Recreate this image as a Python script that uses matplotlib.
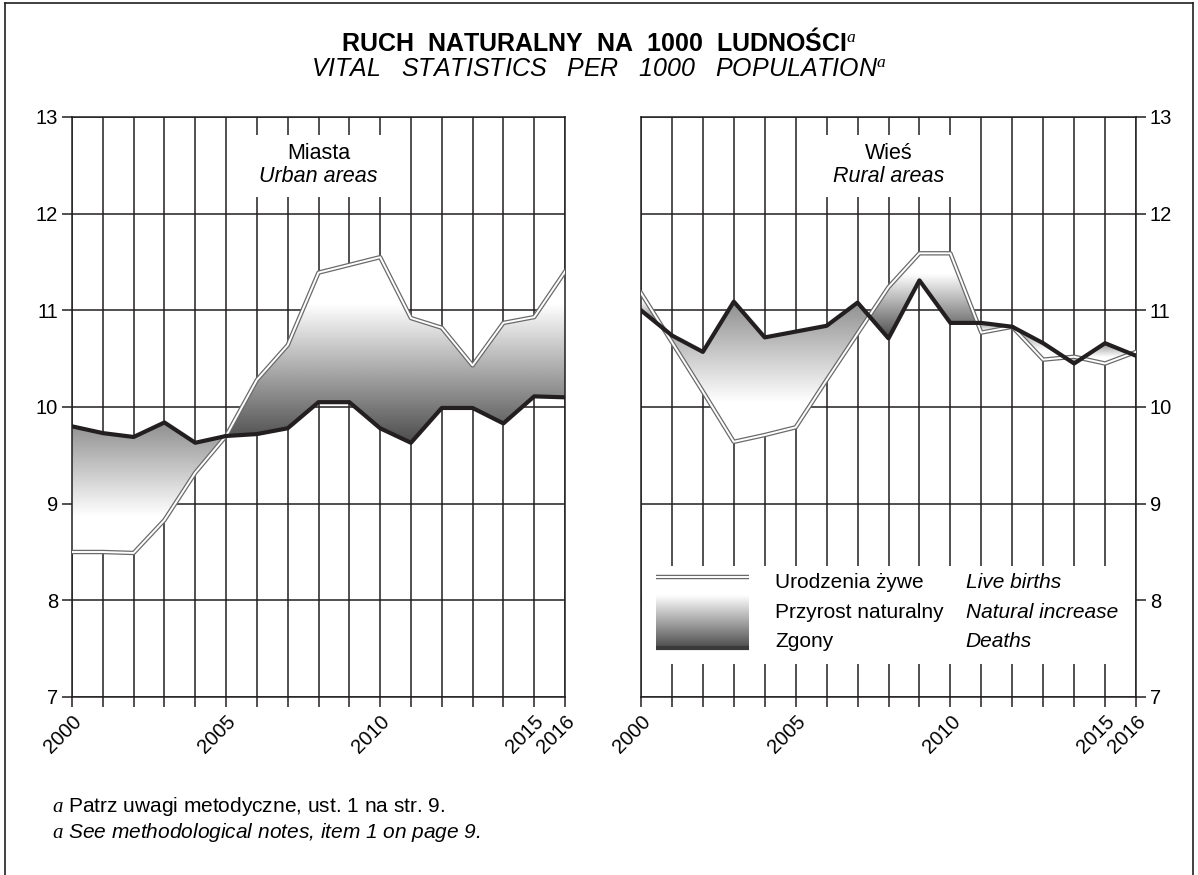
import numpy as np
import matplotlib
matplotlib.use('Agg')
import matplotlib.pyplot as plt
from matplotlib.patches import Polygon, Rectangle
from matplotlib.lines import Line2D

plt.rcParams['font.family'] = ['Liberation Sans', 'DejaVu Sans']
plt.rcParams['mathtext.fontset'] = 'custom'
plt.rcParams['mathtext.it'] = 'Liberation Serif:italic'
plt.rcParams['mathtext.rm'] = 'Liberation Serif'

# data
years = list(range(2000, 2017))
urban_births = [8.50, 8.50, 8.49, 8.83, 9.32, 9.70, 10.28, 10.64, 11.39, 11.47, 11.55,
                10.92, 10.82, 10.43, 10.87, 10.93, 11.40]
urban_deaths = [9.80, 9.73, 9.69, 9.84, 9.63, 9.70, 9.72, 9.78, 10.05, 10.05, 9.78,
                9.63, 9.99, 9.99, 9.83, 10.11, 10.10]
rural_births = [11.18, 10.67, 10.16, 9.64, 9.71, 9.79, 10.28, 10.76, 11.24, 11.59, 11.59,
                10.77, 10.83, 10.49, 10.52, 10.45, 10.57]
rural_deaths = [11.00, 10.74, 10.57, 11.09, 10.72, 10.78, 10.84, 11.08, 10.71, 11.31, 10.87,
                10.87, 10.83, 10.66, 10.45, 10.66, 10.53]
year_labels = {2000: '2000', 2005: '2005', 2010: '2010', 2015: '2015', 2016: '2016'}
y_ticks = [7, 8, 9, 10, 11, 12, 13]

INK = '#231f20'
W, H = 1198, 875


def split_segments(x, b, d):
    # cut the band wherever births and deaths cross
    diff = np.array(b) - np.array(d)
    segs = []
    cx, cb, cd = [x[0]], [b[0]], [d[0]]
    for i in range(len(x) - 1):
        if diff[i] * diff[i + 1] < 0:
            f = diff[i] / (diff[i] - diff[i + 1])
            xc = x[i] + f * (x[i + 1] - x[i])
            yc = b[i] + f * (b[i + 1] - b[i])
            cx.append(xc); cb.append(yc); cd.append(yc)
            segs.append((cx, cb, cd))
            cx, cb, cd = [xc], [yc], [yc]
        cx.append(x[i + 1]); cb.append(b[i + 1]); cd.append(d[i + 1])
        if diff[i + 1] == 0 and i + 1 < len(x) - 1:
            segs.append((cx, cb, cd))
            cx, cb, cd = [x[i + 1]], [b[i + 1]], [d[i + 1]]
    segs.append((cx, cb, cd))
    return segs


def grad_image(births_top, n=256):
    t = np.linspace(0, 1, n)
    if births_top:
        c = np.where(t < 0.25, 1.0, 1.0 - (t - 0.25) / 0.75 * 0.70)
    else:
        c = np.where(t < 0.72, 0.56 + t / 0.72 * 0.44, 1.0)
    return np.tile(c[:, None], (1, 2))


def grad_fill(ax, cx, cb, cd):
    if len(cx) < 2:
        return
    births_top = np.mean(np.array(cb) - np.array(cd)) > 0
    top, bot = (cb, cd) if births_top else (cd, cb)
    pts = np.column_stack([np.r_[cx, cx[::-1]], np.r_[top, bot[::-1]]])
    ymin, ymax = min(min(cb), min(cd)), max(max(cb), max(cd))
    if ymax - ymin < 1e-6:
        return
    im = ax.imshow(grad_image(births_top), cmap='gray', vmin=0, vmax=1,
                   extent=[cx[0], cx[-1], ymin, ymax], origin='upper',
                   aspect='auto', interpolation='bilinear', zorder=1.5)
    patch = Polygon(pts, closed=True, fc='none', ec='none')
    ax.add_patch(patch)
    im.set_clip_path(patch)


def panel(ax, births, deaths, title_pl, title_en, right=False):
    for seg in split_segments(years, births, deaths):
        grad_fill(ax, *seg)
    ax.plot(years, births, color='#6a6a6a', lw=3.2, zorder=3)
    ax.plot(years, births, color='white', lw=1.4, zorder=3.1)
    ax.plot(years, deaths, color=INK, lw=3.0, zorder=3.2)

    ax.set_xlim(2000, 2016)
    ax.set_ylim(7, 13)
    ax.set_xticks(years)
    ax.set_xticklabels([year_labels.get(y, '') for y in years], rotation=45,
                       ha='right', va='top', rotation_mode='anchor')
    ax.set_yticks(y_ticks)
    ax.grid(True, color=INK, lw=1.1)
    ax.set_axisbelow(True)
    ax.tick_params(direction='out', length=7, width=1.1, color=INK,
                   labelsize=14.5, pad=3)
    ax.tick_params(axis='x', pad=4)
    if right:
        ax.yaxis.tick_right()
    for s in ax.spines.values():
        s.set_color(INK)
        s.set_linewidth(1.1)

    # white box behind the panel caption
    ax.add_patch(Rectangle((2005.4, 12.17), 5.2, 0.64, fc='white', ec='none', zorder=1.2))
    ax.text(2008, 12.62, title_pl, ha='center', va='center', fontsize=15.5, zorder=4)
    ax.text(2008, 12.38, title_en, ha='center', va='center', fontsize=15.5,
            style='italic', zorder=4)


fig = plt.figure(figsize=(W / 100, H / 100), dpi=100)
ax_top = 1 - 117 / H
ax_h = (697 - 117) / H
axL = fig.add_axes([72 / W, ax_top - ax_h, (565 - 72) / W, ax_h])
axR = fig.add_axes([641 / W, ax_top - ax_h, (1136 - 641) / W, ax_h])

panel(axL, urban_births, urban_deaths, 'Miasta', 'Urban areas')
panel(axR, rural_births, rural_deaths, 'Wieś', 'Rural areas', right=True)

# legend inside right panel
axR.add_patch(Rectangle((2000.03, 7.34), 15.94, 1.02, fc='white', ec='none', zorder=1.2))
axR.imshow(grad_image(True), cmap='gray', vmin=0, vmax=1,
           extent=[2000.5, 2003.5, 7.51, 8.24], origin='upper',
           aspect='auto', interpolation='bilinear', zorder=1.5)
axR.plot([2000.5, 2003.5], [8.24, 8.24], color='#6a6a6a', lw=3.2, zorder=3,
         solid_capstyle='butt')
axR.plot([2000.5, 2003.5], [8.24, 8.24], color='white', lw=1.4, zorder=3.1,
         solid_capstyle='butt')
axR.plot([2000.5, 2003.5], [7.51, 7.51], color='#3a3a3a', lw=3.0, zorder=3.2,
         solid_capstyle='butt')
axR.set_xlim(2000, 2016)
axR.set_ylim(7, 13)
leg_pl = ['Urodzenia żywe', 'Przyrost naturalny', 'Zgony']
leg_en = ['Live births', 'Natural increase', 'Deaths']
for yy, pl, en in zip([8.18, 7.87, 7.57], leg_pl, leg_en):
    axR.text(2004.34, yy, pl, fontsize=15, va='center', zorder=4)
    axR.text(2010.49, yy, en, fontsize=15, va='center', style='italic', zorder=4)

# titles
fig.text(0.5, 1 - 42 / H, r'RUCH  NATURALNY  NA  1000  LUDNOŚCI$^{a}$', ha='center',
         va='center', fontsize=18, fontweight='bold')
fig.text(0.5, 1 - 69 / H, r'VITAL   STATISTICS   PER   1000   POPULATION$^{a}$', ha='center',
         va='center', fontsize=18, style='italic')

# footnotes
fig.text(52 / W, 1 - 806 / H, r'$a$ Patrz uwagi metodyczne, ust. 1 na str. 9.',
         fontsize=15, va='center')
fig.text(52 / W, 1 - 833 / H, r'$a$ See methodological notes, item 1 on page 9.',
         fontsize=15, va='center', style='italic')

# page frame
fig.add_artist(Line2D([5 / W, 5 / W], [0, 1 - 3 / H], color=INK, lw=1.2))
fig.add_artist(Line2D([5 / W, 1193 / W], [1 - 3 / H, 1 - 3 / H], color=INK, lw=1.2))
fig.add_artist(Line2D([1193 / W, 1193 / W], [0, 1 - 3 / H], color=INK, lw=1.2))

fig.savefig('out.png', dpi=100)
